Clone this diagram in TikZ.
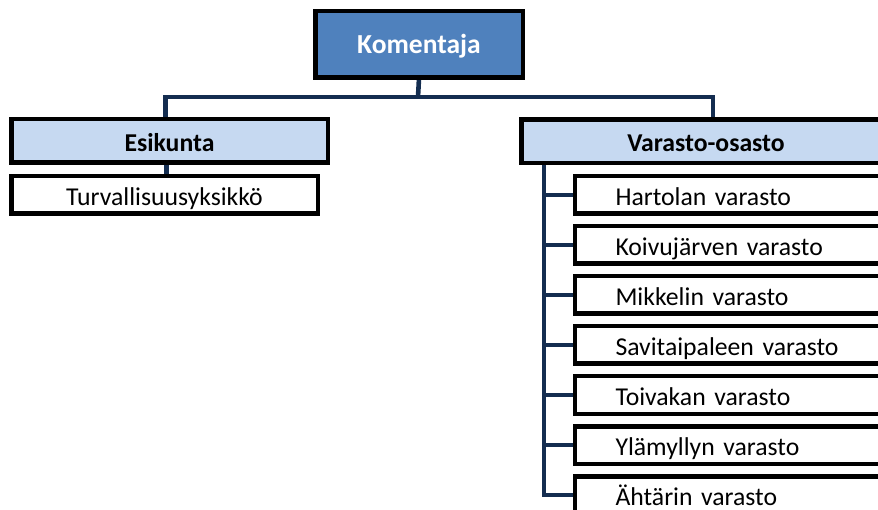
\documentclass[tikz,border=0pt]{standalone}
\usepackage{fontspec}
\setmainfont{Carlito}
\definecolor{topblue}{HTML}{4F81BD}
\definecolor{headblue}{HTML}{C6D9F1}
\definecolor{linkblue}{RGB}{20,45,80}
\begin{document}
\begin{tikzpicture}[x=1pt,y=-1pt,
  box/.style={draw=black,line width=3pt,inner sep=0pt,text height=20.5pt,text depth=0pt},
  topbox/.style={box,fill=topblue,text=white,font=\bfseries\fontsize{27.5}{33}\selectfont,minimum width=206pt,minimum height=65pt,text height=17.7pt},
  headbox/.style={box,fill=headblue,font=\bfseries\fontsize{25.7}{31}\selectfont,minimum height=42pt},
  unitbox/.style={box,fill=white,font=\fontsize{25.7}{31}\selectfont,minimum height=36pt},
  storebox/.style={unitbox,anchor=west,text width=280pt,align=left,inner xsep=40pt},
  link/.style={draw=linkblue,line width=4.6pt}]
\useasboundingbox (0,0) rectangle (878,510);
\node[topbox] (kom) at (419,44.5) {Komentaja};
\node[headbox,minimum width=315pt] (esi) at (169.5,141) {Esikunta};
\node[unitbox,minimum width=305pt] (tur) at (164.5,195) {Turvallisuusyksikkö};
\node[headbox,minimum width=368pt] (var) at (706,141.5) {Varasto-osasto};
\node[storebox] (har) at (574,195) {Hartolan varasto};
\node[storebox] (koi) at (574,245) {Koivujärven varasto};
\node[storebox] (mik) at (574,295) {Mikkelin varasto};
\node[storebox] (sav) at (574,345) {Savitaipaleen varasto};
\node[storebox] (toi) at (574,395) {Toivakan varasto};
\node[storebox] (yla) at (574,445) {Ylämyllyn varasto};
\node[storebox] (aht) at (574,495) {Ähtärin varasto};
\coordinate (bus) at (418,97);
\coordinate (spine) at (544,163);
\draw[link] (kom.south) -- (bus);
\draw[link] ([xshift=-4pt]esi.north) |- (bus) -| ([xshift=7pt]var.north);
\draw[link] ([xshift=-3pt]esi.south) -- ([xshift=-3pt]esi.south |- tur.north);
\foreach \s in {har,koi,mik,sav,toi,yla,aht}
  \draw[link] (spine) |- (\s.west);
% redraw borders over the links
\foreach \n in {kom,esi,var,tur,har,koi,mik,sav,toi,yla,aht}
  \draw[line width=3pt] (\n.north west) rectangle (\n.south east);
\end{tikzpicture}
\end{document}
